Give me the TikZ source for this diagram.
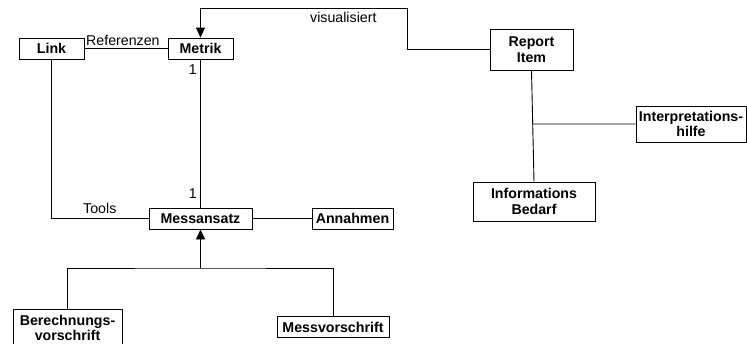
\documentclass[tikz,border=0pt]{standalone}
\usepackage{fontspec}
\setmainfont{Liberation Sans}
\usetikzlibrary{arrows.meta,calc}
\begin{document}
\begin{tikzpicture}[x=1pt,y=-1pt,
  box/.style={draw,line width=0.9pt,rectangle,inner sep=0pt,align=center,
    font=\fontsize{14.2}{15.5}\selectfont\bfseries},
  conn/.style={line width=0.9pt},
  lbl/.style={inner sep=0pt,font=\fontsize{14.2}{15.5}\selectfont},
  tip/.style={-{Triangle[width=9pt,length=10pt]}}]
\useasboundingbox (0,0) rectangle (747,343);
\clip (0,0) rectangle (747,343);
\node[box,minimum width=65pt,minimum height=21pt] (link) at (51.5,48.5) {Link};
\node[box,minimum width=65pt,minimum height=21pt] (metrik) at (200.5,48.5) {Metrik};
\node[box,minimum width=83pt,minimum height=41pt] (report) at (531.5,49.5) {Report\\Item};
\node[box,minimum width=110pt,minimum height=36pt] (interp) at (691,124) {Interpretations-\\hilfe};
\node[box,minimum width=122pt,minimum height=39pt] (info) at (534,201.5) {Informations\\Bedarf};
\node[box,minimum width=103pt,minimum height=21pt] (mess) at (200.5,218.5) {Messansatz};
\node[box,minimum width=81pt,minimum height=21pt] (ann) at (352.5,218.5) {Annahmen};
\node[box,minimum width=109pt,minimum height=38pt] (ber) at (67.5,328) {Berechnungs-\\vorschrift};
\node[box,minimum width=112pt,minimum height=21pt] (messv) at (333,327) {Messvorschrift};

\coordinate (v1) at (407,8);
\coordinate (j1) at (200.5,268);
\coordinate (j2) at ($(report.south)!0.482!(info.north)$);

\draw[conn] (link.east) -- (metrik.west);
\draw[conn,tip] (report.west) -| (v1) -| (metrik.north);
\draw[conn] (metrik.south) -- (mess.north);
\draw[conn] (link.south) |- (mess.west);
\draw[conn] (mess.east) -- (ann.west);
\draw[conn] (ber.north) |- (j1) -| (messv.north);
\draw[conn,tip] (j1) -- (mess.south);
\draw[conn] (report.south) -- (info.north);
\draw[conn] (j2) -- (interp.west);

\node[lbl,anchor=base west] (lref) at (86,45) {Referenzen};
\node[lbl,anchor=base west] (lvis) at (310,22) {visualisiert};
\node[lbl,anchor=base east] (l1a) at (197,74) {1};
\node[lbl,anchor=base east] (l1b) at (197,198) {1};
\node[lbl,anchor=base west] (ltools) at (83,213) {Tools};
\end{tikzpicture}
\end{document}
